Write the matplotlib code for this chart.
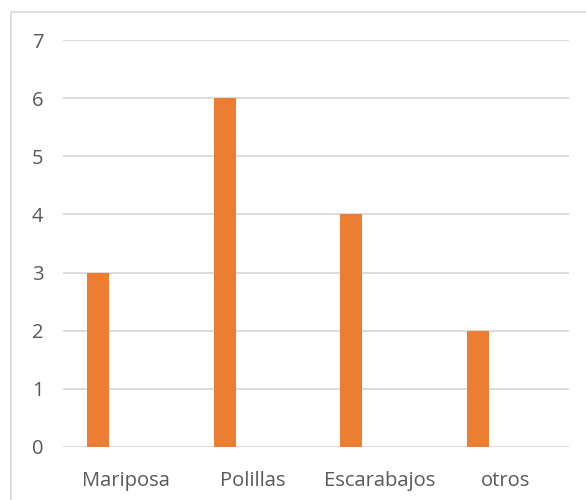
import numpy as np
import matplotlib.pyplot as plt
from matplotlib.patches import Rectangle

categorias = ['Mariposa', 'Polillas', 'Escarabajos', 'otros']
valores = [3, 6, 4, 2]

plt.rcParams['font.family'] = ['Open Sans', 'DejaVu Sans']

fig = plt.figure(figsize=(5.86, 5.00), dpi=100)
# chart border
fig.patches.append(Rectangle((11 / 586, -0.05), 1.0, (500 - 12) / 500 + 0.05,
                             transform=fig.transFigure, fill=False,
                             edgecolor='#d9d9d9', linewidth=1.2))

ax = fig.add_axes([63 / 586, 53 / 500, (569 - 63) / 586, (447 - 40) / 500])
x = np.arange(len(categorias))
ax.bar(x - 0.22, valores, width=0.174, color='#ed7d31', zorder=3)

ax.set_xlim(-0.5, len(categorias) - 0.5)
ax.set_ylim(0, 7)
ax.set_yticks(range(0, 8))
ax.set_xticks(x)
ax.set_xticklabels(categorias)
ax.yaxis.grid(True, color='#d9d9d9', linewidth=1.3, zorder=0)
for s in ax.spines.values():
    s.set_visible(False)
ax.tick_params(axis='both', length=0, labelsize=14.5, labelcolor='#595959')
ax.tick_params(axis='y', pad=14)
ax.tick_params(axis='x', pad=17)

fig.savefig('out.png', dpi=100)
